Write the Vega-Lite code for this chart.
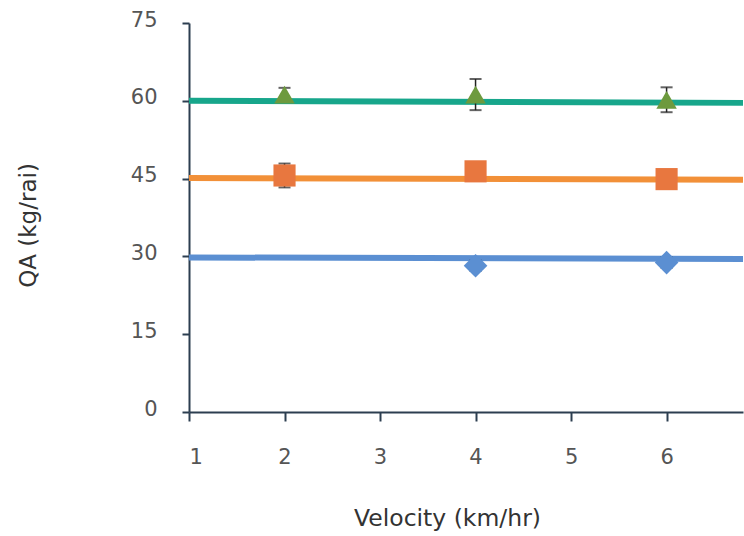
{
  "$schema": "https://vega.github.io/schema/vega-lite/v6.json",
  "autosize": "none",
  "width": 554,
  "height": 389,
  "padding": {"left": 189, "top": 23, "right": 1, "bottom": 124},
  "background": "white",
  "config": {
    "view": {"stroke": null},
    "font": "DejaVu Sans"
  },
  "datasets": {
    "lines": [
      {"v": 1, "qa": 60.0, "series": "c"},
      {"v": 6.8, "qa": 59.6, "series": "c"},
      {"v": 1, "qa": 45.1, "series": "b"},
      {"v": 6.8, "qa": 44.8, "series": "b"},
      {"v": 1, "qa": 29.8, "series": "a"},
      {"v": 6.8, "qa": 29.5, "series": "a"}
    ],
    "points": [
      {"v": 2, "qa": 61.2, "err": 1.3, "series": "c"},
      {"v": 4, "qa": 61.2, "err": 3.0, "series": "c"},
      {"v": 6, "qa": 60.2, "err": 2.4, "series": "c"},
      {"v": 2, "qa": 45.6, "err": 2.3, "series": "b"},
      {"v": 4, "qa": 46.4, "err": 1.0, "series": "b"},
      {"v": 6, "qa": 44.9, "err": 1.0, "series": "b"},
      {"v": 4, "qa": 28.2, "err": 1.0, "series": "a"},
      {"v": 6, "qa": 28.8, "err": 1.0, "series": "a"}
    ]
  },
  "encoding": {
    "x": {
      "field": "v",
      "type": "quantitative",
      "scale": {"domain": [1, 6.8], "nice": false, "zero": false},
      "axis": {
        "values": [1, 2, 3, 4, 5, 6],
        "title": "Velocity (km/hr)",
        "grid": false,
        "domainColor": "#2c3e50",
        "domainWidth": 2,
        "tickColor": "#2c3e50",
        "tickWidth": 2,
        "tickSize": 9,
        "labelPadding": 25,
        "labelFontSize": 21,
        "labelColor": "#555555",
        "labelFontWeight": "normal",
        "titleFontSize": 23.5,
        "titleFontWeight": "normal",
        "titleColor": "#333333",
        "titleX": 258,
        "titleY": 106,
        "titleBaseline": "middle"
      }
    }
  },
  "layer": [
    {
      "data": {"name": "lines"},
      "mark": {"type": "line", "strokeWidth": 6},
      "encoding": {
        "y": {
          "field": "qa",
          "type": "quantitative",
          "title": "QA (kg/rai)",
          "scale": {"domain": [0, 75], "nice": false},
          "axis": {
            "values": [0, 15, 30, 45, 60, 75],
            "grid": false,
            "domainColor": "#2c3e50",
            "domainWidth": 2,
            "tickColor": "#2c3e50",
            "tickWidth": 2,
            "tickSize": 7,
            "labelPadding": 25,
            "labelOffset": -3,
            "labelFontSize": 21,
            "labelColor": "#555555",
            "titleFontSize": 23,
            "titleFontWeight": "normal",
            "titleColor": "#333333",
            "titleX": -161,
            "titleY": 202,
            "titleAngle": -90,
            "titleBaseline": "middle",
            "titleAlign": "center"
          }
        },
        "color": {
          "field": "series",
          "type": "nominal",
          "scale": {"domain": ["a", "b", "c"], "range": ["#5b8fd2", "#f29038", "#17a68b"]},
          "legend": null
        }
      }
    },
    {
      "data": {"name": "points"},
      "mark": {"type": "errorbar", "ticks": {"size": 12, "thickness": 2, "color": "#222222"}, "rule": {"strokeWidth": 1.5, "color": "#222222"}},
      "encoding": {
        "y": {"field": "qa", "type": "quantitative", "title": "QA (kg/rai)"},
        "yError": {"field": "err"}
      }
    },
    {
      "data": {"name": "points"},
      "mark": {"type": "point", "filled": true, "opacity": 1},
      "encoding": {
        "y": {"field": "qa", "type": "quantitative", "title": "QA (kg/rai)"},
        "shape": {
          "field": "series",
          "type": "nominal",
          "scale": {"domain": ["a", "b", "c"], "range": ["diamond", "square", "triangle-up"]},
          "legend": null
        },
        "size": {
          "field": "series",
          "type": "nominal",
          "scale": {"domain": ["a", "b", "c"], "range": [560, 420, 340]},
          "legend": null
        },
        "color": {
          "field": "series",
          "type": "nominal",
          "scale": {"domain": ["a", "b", "c"], "range": ["#5b8fd2", "#e8773f", "#6d9a3e"]},
          "legend": null
        }
      }
    }
  ],
  "resolve": {"scale": {"color": "independent"}}
}
